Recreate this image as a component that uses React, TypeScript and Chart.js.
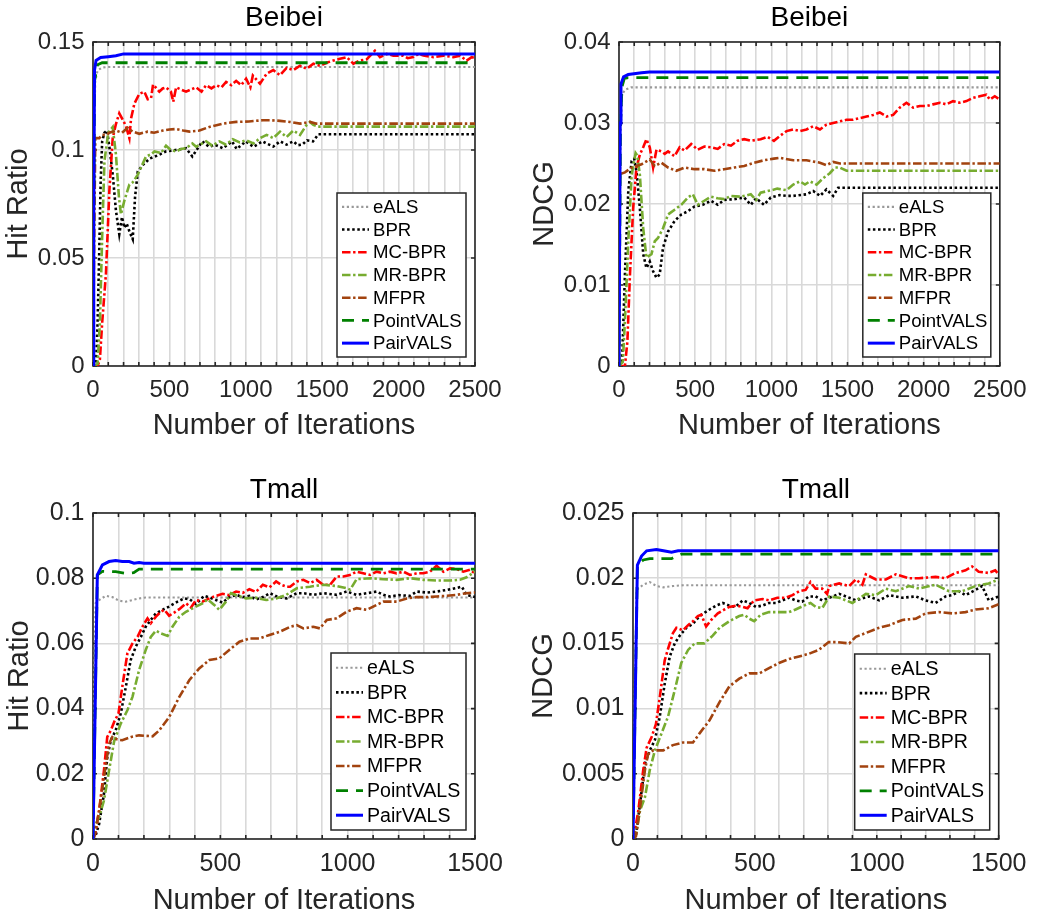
import React, { useEffect, useRef } from 'react';
import { Chart, registerables } from 'chart.js';

Chart.register(...registerables);

type Pt = [number, number];

const FONT = '"Liberation Sans", Arial, Helvetica, sans-serif';

const seriesNames = ['eALS', 'BPR', 'MC-BPR', 'MR-BPR', 'MFPR', 'PointVALS', 'PairVALS'];

const xTickLabelsBeibei = ['0', '500', '1000', '1500', '2000', '2500'];
const xTickLabelsTmall = ['0', '500', '1000', '1500'];
const yTickLabelsHrBeibei = ['0', '0.05', '0.1', '0.15'];
const yTickLabelsNdcgBeibei = ['0', '0.01', '0.02', '0.03', '0.04'];
const yTickLabelsHrTmall = ['0', '0.02', '0.04', '0.06', '0.08', '0.1'];
const yTickLabelsNdcgTmall = ['0', '0.005', '0.01', '0.015', '0.02', '0.025'];

// ---------- Beibei, Hit Ratio ----------
const beibeiHrEALS: Pt[] = [[0, 0], [8, 0.11], [15, 0.132], [30, 0.1368], [60, 0.1382], [100, 0.1384], [2500, 0.1384]];
const beibeiHrBPR: Pt[] = [[0, 0], [20, 0.001], [30, 0.02], [40, 0.05], [50, 0.085], [60, 0.104], [75, 0.108], [92, 0.109], [110, 0.1], [130, 0.088], [150, 0.072], [172, 0.061], [190, 0.069], [205, 0.064], [220, 0.066], [240, 0.062], [260, 0.0587], [275, 0.078], [293, 0.09], [325, 0.093], [370, 0.096], [430, 0.0977], [475, 0.0993], [540, 0.1], [609, 0.1008], [650, 0.097], [715, 0.104], [760, 0.1015], [800, 0.1024], [850, 0.1008], [910, 0.104], [940, 0.1005], [1000, 0.104], [1050, 0.1015], [1110, 0.104], [1136, 0.103], [1180, 0.1016], [1224, 0.104], [1267, 0.1025], [1311, 0.104], [1340, 0.1022], [1370, 0.1025], [1400, 0.1045], [1440, 0.104], [1475, 0.1073], [2500, 0.1073]];
const beibeiHrMCBPR: Pt[] = [[0, 0], [30, 0], [45, 0.003], [60, 0.02], [85, 0.043], [107, 0.081], [129, 0.1055], [150, 0.112], [172, 0.117], [195, 0.114], [216, 0.111], [238, 0.1055], [249, 0.1146], [271, 0.1215], [303, 0.126], [336, 0.127], [358, 0.1235], [380, 0.124], [393, 0.1303], [410, 0.129], [434, 0.127], [456, 0.1285], [478, 0.129], [510, 0.127], [525, 0.1223], [544, 0.129], [575, 0.128], [609, 0.127], [640, 0.128], [675, 0.129], [710, 0.127], [740, 0.13], [775, 0.1285], [806, 0.13], [840, 0.129], [871, 0.1315], [905, 0.13], [937, 0.132], [970, 0.13], [1002, 0.133], [1030, 0.129], [1046, 0.1345], [1093, 0.1307], [1136, 0.1353], [1180, 0.137], [1224, 0.1346], [1267, 0.138], [1311, 0.137], [1355, 0.139], [1398, 0.1376], [1442, 0.14], [1485, 0.139], [1529, 0.1404], [1573, 0.1414], [1616, 0.1422], [1660, 0.143], [1704, 0.14], [1747, 0.1414], [1791, 0.142], [1845, 0.146], [1878, 0.143], [1922, 0.1445], [1965, 0.1437], [2031, 0.1437], [2060, 0.1425], [2096, 0.143], [2130, 0.1445], [2162, 0.1437], [2227, 0.143], [2293, 0.1437], [2358, 0.143], [2402, 0.1437], [2445, 0.1414], [2478, 0.143], [2500, 0.1425]];
const beibeiHrMRBPR: Pt[] = [[0, 0], [30, 0.001], [45, 0.02], [60, 0.06], [75, 0.095], [100, 0.108], [129, 0.1106], [150, 0.098], [170, 0.078], [183, 0.0702], [205, 0.0765], [238, 0.084], [260, 0.085], [293, 0.0886], [315, 0.092], [347, 0.097], [380, 0.098], [402, 0.0993], [445, 0.0986], [478, 0.102], [510, 0.1], [544, 0.0993], [576, 0.1005], [609, 0.1008], [650, 0.103], [675, 0.1015], [740, 0.104], [780, 0.102], [827, 0.104], [871, 0.1025], [915, 0.105], [960, 0.1035], [1002, 0.1045], [1050, 0.103], [1093, 0.1055], [1136, 0.107], [1180, 0.1055], [1224, 0.1085], [1267, 0.106], [1311, 0.109], [1355, 0.107], [1398, 0.1116], [1420, 0.113], [1442, 0.1116], [1474, 0.1108], [2500, 0.1108]];
const beibeiHrMFPR: Pt[] = [[0, 0], [8, 0.06], [15, 0.1055], [41, 0.1055], [60, 0.107], [90, 0.107], [107, 0.108], [150, 0.109], [190, 0.108], [227, 0.1103], [260, 0.1085], [303, 0.1075], [358, 0.1085], [400, 0.108], [456, 0.109], [500, 0.1095], [544, 0.1097], [590, 0.109], [631, 0.1085], [697, 0.109], [762, 0.1107], [849, 0.1122], [937, 0.113], [1020, 0.1132], [1111, 0.1138], [1158, 0.1138], [1224, 0.1135], [1289, 0.113], [1355, 0.1122], [1380, 0.1125], [1420, 0.113], [1463, 0.1122], [2500, 0.1122]];
const beibeiHrPointVALS: Pt[] = [[0, 0], [5, 0.07], [10, 0.132], [30, 0.1395], [60, 0.1404], [2500, 0.1404]];
const beibeiHrPairVALS: Pt[] = [[0, 0], [5, 0.07], [10, 0.137], [20, 0.1415], [50, 0.1428], [100, 0.1432], [150, 0.1436], [200, 0.1445], [2500, 0.1445]];

// ---------- Beibei, NDCG ----------
const beibeiNdcgEALS: Pt[] = [[0, 0], [10, 0.028], [20, 0.0335], [40, 0.0341], [80, 0.0344], [2500, 0.0344]];
const beibeiNdcgBPR: Pt[] = [[0, 0], [20, 0.0005], [39, 0.0113], [61, 0.0216], [83, 0.0253], [100, 0.0256], [115, 0.024], [137, 0.0195], [159, 0.0138], [180, 0.0121], [202, 0.0129], [224, 0.0117], [246, 0.0109], [267, 0.0113], [289, 0.0146], [322, 0.0166], [365, 0.0179], [409, 0.0187], [452, 0.0191], [496, 0.0197], [550, 0.0199], [604, 0.0204], [648, 0.0199], [691, 0.0205], [757, 0.0206], [822, 0.0208], [865, 0.0199], [900, 0.0207], [952, 0.0199], [996, 0.0208], [1056, 0.0211], [1104, 0.021], [1144, 0.021], [1231, 0.0212], [1275, 0.0216], [1320, 0.021], [1362, 0.0218], [1406, 0.021], [1439, 0.022], [2500, 0.022]];
const beibeiNdcgMCBPR: Pt[] = [[0, 0], [39, 0], [55, 0.003], [72, 0.0113], [93, 0.0195], [115, 0.0245], [137, 0.0261], [159, 0.027], [180, 0.028], [202, 0.027], [224, 0.0245], [246, 0.0267], [278, 0.0265], [300, 0.0262], [322, 0.0265], [365, 0.0259], [398, 0.027], [430, 0.0266], [474, 0.0274], [517, 0.0267], [560, 0.0271], [604, 0.027], [648, 0.0268], [691, 0.0274], [735, 0.0272], [778, 0.0278], [822, 0.028], [865, 0.0278], [930, 0.028], [975, 0.0283], [1017, 0.0278], [1056, 0.0284], [1100, 0.029], [1144, 0.0292], [1188, 0.029], [1231, 0.0292], [1275, 0.0296], [1319, 0.0292], [1362, 0.0298], [1406, 0.03], [1450, 0.0302], [1494, 0.0304], [1537, 0.0304], [1581, 0.0306], [1625, 0.0308], [1669, 0.031], [1712, 0.0313], [1756, 0.0308], [1800, 0.031], [1843, 0.0319], [1887, 0.0325], [1931, 0.0319], [1975, 0.0321], [2018, 0.0321], [2062, 0.0323], [2106, 0.0325], [2150, 0.0323], [2193, 0.0327], [2237, 0.0325], [2281, 0.0327], [2325, 0.0331], [2368, 0.0333], [2412, 0.0335], [2434, 0.0329], [2467, 0.0333], [2500, 0.0329]];
const beibeiNdcgMRBPR: Pt[] = [[0, 0], [25, 0.0005], [40, 0.006], [61, 0.0154], [83, 0.0236], [109, 0.0263], [120, 0.026], [137, 0.0236], [159, 0.017], [180, 0.0134], [213, 0.0138], [235, 0.0154], [256, 0.0158], [289, 0.017], [322, 0.0187], [365, 0.0193], [409, 0.0199], [452, 0.0208], [485, 0.0212], [517, 0.0199], [560, 0.0204], [604, 0.0209], [648, 0.0207], [691, 0.0206], [735, 0.021], [800, 0.0209], [865, 0.0212], [900, 0.0205], [930, 0.0214], [1000, 0.0217], [1039, 0.0219], [1100, 0.0217], [1144, 0.0224], [1188, 0.0228], [1221, 0.0224], [1253, 0.0228], [1297, 0.0224], [1341, 0.0232], [1384, 0.0238], [1417, 0.0245], [1450, 0.0245], [1494, 0.0241], [2500, 0.0241]];
const beibeiNdcgMFPR: Pt[] = [[0, 0], [5, 0.0237], [39, 0.0239], [83, 0.0245], [148, 0.0249], [202, 0.0255], [235, 0.0247], [278, 0.0251], [322, 0.0245], [376, 0.0241], [430, 0.0245], [496, 0.0243], [560, 0.0243], [626, 0.0241], [690, 0.0243], [757, 0.0245], [822, 0.0247], [887, 0.0251], [952, 0.0254], [1017, 0.0256], [1056, 0.0257], [1144, 0.0254], [1231, 0.0254], [1319, 0.0251], [1362, 0.0248], [1406, 0.0252], [1450, 0.025], [2500, 0.025]];
const beibeiNdcgPointVALS: Pt[] = [[0, 0], [10, 0.03], [20, 0.0345], [35, 0.0355], [60, 0.0356], [2500, 0.0356]];
const beibeiNdcgPairVALS: Pt[] = [[0, 0], [8, 0.03], [13, 0.0348], [30, 0.0357], [61, 0.036], [148, 0.0362], [200, 0.0363], [2500, 0.0363]];

// ---------- Tmall, Hit Ratio ----------
const tmallHrEALS: Pt[] = [[0, 0], [5, 0.05], [10, 0.0723], [24, 0.0733], [50, 0.0746], [76, 0.0742], [102, 0.0731], [129, 0.0728], [155, 0.0733], [181, 0.0738], [207, 0.0741], [1500, 0.0741]];
const tmallHrBPR: Pt[] = [[0, 0], [10, 0.001], [24, 0.0046], [43, 0.0138], [56, 0.025], [70, 0.0303], [89, 0.0333], [109, 0.0385], [129, 0.0467], [148, 0.0549], [168, 0.059], [188, 0.062], [207, 0.0651], [227, 0.0672], [247, 0.0692], [273, 0.0703], [299, 0.0713], [332, 0.0728], [358, 0.0738], [380, 0.0735], [404, 0.0721], [437, 0.0746], [460, 0.074], [483, 0.0733], [509, 0.0725], [535, 0.0742], [562, 0.0749], [588, 0.0742], [614, 0.0746], [640, 0.0735], [667, 0.0742], [695, 0.0754], [721, 0.0744], [760, 0.0738], [800, 0.0754], [826, 0.0754], [865, 0.0749], [904, 0.0754], [957, 0.0749], [996, 0.0759], [1035, 0.0749], [1075, 0.0754], [1114, 0.0759], [1140, 0.0749], [1166, 0.0744], [1200, 0.0748], [1245, 0.0746], [1271, 0.0759], [1310, 0.0756], [1349, 0.0759], [1389, 0.0764], [1428, 0.077], [1448, 0.0774], [1467, 0.0749], [1500, 0.0742]];
const tmallHrMCBPR: Pt[] = [[0, 0], [8, 0.0015], [24, 0.0087], [43, 0.021], [56, 0.0313], [70, 0.0333], [83, 0.0359], [100, 0.0385], [115, 0.0467], [135, 0.0569], [155, 0.06], [175, 0.062], [194, 0.0651], [214, 0.0677], [227, 0.0662], [247, 0.0682], [266, 0.0697], [280, 0.0703], [299, 0.0685], [320, 0.0695], [339, 0.0705], [365, 0.0723], [385, 0.071], [404, 0.0733], [430, 0.0728], [457, 0.0738], [483, 0.0746], [509, 0.0752], [535, 0.0748], [562, 0.0759], [588, 0.0755], [614, 0.0766], [640, 0.0758], [667, 0.078], [693, 0.0772], [719, 0.079], [739, 0.078], [760, 0.0774], [774, 0.0774], [800, 0.079], [826, 0.0795], [852, 0.0785], [878, 0.0795], [904, 0.078], [931, 0.078], [957, 0.0805], [983, 0.0805], [1009, 0.081], [1035, 0.082], [1061, 0.0815], [1088, 0.081], [1114, 0.082], [1140, 0.0815], [1166, 0.082], [1192, 0.0815], [1219, 0.082], [1245, 0.081], [1271, 0.0815], [1297, 0.0815], [1323, 0.082], [1349, 0.0838], [1376, 0.082], [1402, 0.083], [1428, 0.0828], [1454, 0.082], [1480, 0.0826], [1500, 0.0815]];
const tmallHrMRBPR: Pt[] = [[0, 0], [5, 0.0036], [24, 0.0067], [43, 0.0118], [63, 0.021], [83, 0.03], [109, 0.0354], [135, 0.0395], [155, 0.0436], [181, 0.0518], [207, 0.058], [227, 0.062], [247, 0.0639], [266, 0.0631], [293, 0.0623], [312, 0.0651], [339, 0.0682], [365, 0.0697], [404, 0.0713], [430, 0.0723], [450, 0.0735], [476, 0.0718], [496, 0.0703], [522, 0.0728], [542, 0.0754], [568, 0.0746], [601, 0.0738], [640, 0.074], [680, 0.0733], [719, 0.0738], [759, 0.0749], [800, 0.0769], [852, 0.0774], [904, 0.078], [957, 0.0776], [996, 0.0769], [1010, 0.0765], [1035, 0.0797], [1088, 0.08], [1140, 0.0797], [1192, 0.0795], [1245, 0.08], [1297, 0.0795], [1349, 0.0793], [1402, 0.0793], [1441, 0.0795], [1467, 0.0803], [1500, 0.082]];
const tmallHrMFPR: Pt[] = [[0, 0], [8, 0.0015], [24, 0.0087], [43, 0.019], [63, 0.0292], [76, 0.0313], [96, 0.0305], [115, 0.0303], [150, 0.0313], [181, 0.0318], [234, 0.0315], [260, 0.0333], [299, 0.0374], [339, 0.0436], [378, 0.0487], [417, 0.0523], [457, 0.0549], [496, 0.0554], [535, 0.058], [575, 0.0605], [614, 0.0615], [654, 0.0615], [693, 0.0626], [734, 0.0636], [774, 0.0651], [800, 0.0656], [826, 0.0646], [865, 0.0651], [891, 0.0646], [918, 0.0672], [957, 0.0677], [996, 0.0697], [1035, 0.0708], [1075, 0.0703], [1114, 0.0718], [1140, 0.0728], [1192, 0.0728], [1232, 0.0738], [1271, 0.0742], [1310, 0.0742], [1349, 0.0744], [1389, 0.0746], [1428, 0.0749], [1467, 0.0754], [1500, 0.0756]];
const tmallHrPointVALS: Pt[] = [[0, 0], [17, 0.081], [37, 0.0821], [89, 0.082], [129, 0.0815], [160, 0.0817], [181, 0.0828], [1500, 0.0828]];
const tmallHrPairVALS: Pt[] = [[0, 0], [17, 0.081], [37, 0.0841], [63, 0.0851], [89, 0.0854], [115, 0.0851], [142, 0.0851], [161, 0.0846], [181, 0.0848], [200, 0.0846], [1500, 0.0846]];

// ---------- Tmall, NDCG ----------
const tmallNdcgEALS: Pt[] = [[0, 0], [8, 0.012], [15, 0.0191], [42, 0.0195], [69, 0.0197], [96, 0.0194], [124, 0.0193], [164, 0.0194], [205, 0.01946], [1500, 0.01946]];
const tmallNdcgBPR: Pt[] = [[0, 0], [12, 0.0003], [29, 0.0027], [49, 0.0058], [69, 0.0068], [90, 0.0076], [110, 0.0094], [130, 0.0119], [151, 0.014], [171, 0.015], [192, 0.0156], [219, 0.0162], [246, 0.0165], [273, 0.0171], [314, 0.0176], [341, 0.0179], [368, 0.0181], [395, 0.0179], [420, 0.0178], [450, 0.0183], [477, 0.0181], [504, 0.0178], [531, 0.0179], [558, 0.0181], [586, 0.0181], [613, 0.0183], [640, 0.0185], [667, 0.0183], [694, 0.0182], [721, 0.0186], [749, 0.0186], [776, 0.0183], [805, 0.0185], [846, 0.0188], [887, 0.0185], [914, 0.0183], [968, 0.0186], [1010, 0.0183], [1051, 0.0187], [1105, 0.0185], [1160, 0.0186], [1200, 0.0183], [1241, 0.0181], [1282, 0.0186], [1310, 0.0187], [1337, 0.019], [1364, 0.0187], [1405, 0.0191], [1432, 0.0194], [1459, 0.0183], [1500, 0.0186]];
const tmallNdcgMCBPR: Pt[] = [[0, 0], [5, 0.0003], [22, 0.0022], [42, 0.0053], [56, 0.007], [76, 0.0078], [94, 0.0088], [110, 0.0109], [130, 0.0137], [144, 0.0146], [164, 0.0158], [178, 0.0162], [205, 0.016], [226, 0.0164], [246, 0.0167], [266, 0.0171], [280, 0.0172], [300, 0.0163], [321, 0.0168], [348, 0.0173], [375, 0.0176], [395, 0.0178], [423, 0.0179], [450, 0.0178], [470, 0.0177], [497, 0.0183], [531, 0.0184], [558, 0.0183], [592, 0.0185], [626, 0.0185], [654, 0.0187], [681, 0.019], [708, 0.0191], [728, 0.0197], [749, 0.0192], [776, 0.0192], [796, 0.0188], [805, 0.0194], [846, 0.0196], [887, 0.0194], [914, 0.0199], [941, 0.0195], [955, 0.0203], [996, 0.0199], [1037, 0.0199], [1078, 0.0203], [1132, 0.02], [1173, 0.02], [1241, 0.0201], [1282, 0.02], [1323, 0.0204], [1364, 0.0206], [1391, 0.0209], [1418, 0.0205], [1459, 0.0204], [1486, 0.0206], [1500, 0.0203]];
const tmallNdcgMRBPR: Pt[] = [[0, 0], [12, 0.0003], [29, 0.0022], [49, 0.0032], [69, 0.0053], [90, 0.0068], [117, 0.0081], [144, 0.0094], [171, 0.0114], [198, 0.0135], [226, 0.0145], [253, 0.015], [293, 0.015], [327, 0.0156], [355, 0.0162], [395, 0.0167], [436, 0.0171], [457, 0.0172], [477, 0.0169], [497, 0.0167], [524, 0.0172], [558, 0.0174], [599, 0.0174], [640, 0.0174], [667, 0.0176], [701, 0.0179], [728, 0.0181], [749, 0.0178], [776, 0.0177], [805, 0.0186], [846, 0.0185], [900, 0.0181], [955, 0.0188], [996, 0.0187], [1037, 0.0192], [1078, 0.019], [1132, 0.0194], [1173, 0.0192], [1241, 0.0195], [1296, 0.019], [1350, 0.019], [1405, 0.0194], [1459, 0.0196], [1500, 0.0199]];
const tmallNdcgMFPR: Pt[] = [[0, 0], [12, 0.0002], [29, 0.0024], [49, 0.0053], [62, 0.0065], [83, 0.0068], [124, 0.0068], [164, 0.0072], [205, 0.0074], [246, 0.0074], [273, 0.0081], [314, 0.0091], [355, 0.0105], [395, 0.0117], [436, 0.0123], [477, 0.0127], [518, 0.0127], [558, 0.0131], [599, 0.0135], [640, 0.0138], [681, 0.014], [721, 0.0142], [762, 0.0145], [803, 0.0151], [832, 0.0151], [887, 0.015], [914, 0.0155], [955, 0.0158], [1010, 0.0162], [1051, 0.0164], [1105, 0.0168], [1160, 0.0169], [1200, 0.0173], [1255, 0.0174], [1310, 0.0173], [1364, 0.0174], [1405, 0.0176], [1459, 0.0177], [1500, 0.018]];
const tmallNdcgPointVALS: Pt[] = [[0, 0], [18, 0.021], [42, 0.0214], [69, 0.0215], [125, 0.0215], [158, 0.0215], [178, 0.0217], [200, 0.02185], [1500, 0.02185]];
const tmallNdcgPairVALS: Pt[] = [[0, 0], [18, 0.021], [35, 0.0217], [56, 0.0221], [96, 0.0222], [125, 0.0221], [158, 0.022], [185, 0.0221], [1500, 0.0221]];

// ---------- styles (not data) ----------
const seriesStyles = [
  { color: '#999999', dash: [2.2, 2.6], width: 2.1 },
  { color: '#000000', dash: [2.5, 2.6], width: 2.6 },
  { color: '#ff0000', dash: [8.5, 2.6, 2.4, 2.6], width: 2.6 },
  { color: '#77ac30', dash: [8.5, 2.6, 2.4, 2.6], width: 2.6 },
  { color: '#a2430f', dash: [8.5, 2.6, 2.4, 2.6], width: 2.6 },
  { color: '#008000', dash: [12, 8], width: 2.8 },
  { color: '#0000ff', dash: [], width: 3 },
];

type PanelCfg = {
  title: string; yLabel: string;
  series: Pt[][];
  xMax: number; xLabels: string[];
  yMax: number; yStep: number; yLabels: string[];
  left: number; top: number; w: number; h: number;
  plotLeft: number; plotRight: number; plotTop: number; plotBottom: number;
  titlePadTop: number; yTitlePad: number; xTitlePadBottom: number;
  tickFont: number; legendW: number; legendH: number; legendFont: number;
};

const panels: PanelCfg[] = [
  {
    title: 'Beibei', yLabel: 'Hit Ratio',
    series: [beibeiHrEALS, beibeiHrBPR, beibeiHrMCBPR, beibeiHrMRBPR, beibeiHrMFPR, beibeiHrPointVALS, beibeiHrPairVALS],
    xMax: 2500, xLabels: xTickLabelsBeibei, yMax: 0.15, yStep: 0.05, yLabels: yTickLabelsHrBeibei,
    left: 0, top: 0, w: 520, h: 457, plotLeft: 93, plotRight: 475, plotTop: 42, plotBottom: 366,
    titlePadTop: 4.5, yTitlePad: 4.8, xTitlePadBottom: 17, tickFont: 24, legendW: 129, legendH: 164, legendFont: 18.6,
  },
  {
    title: 'Beibei', yLabel: 'NDCG',
    series: [beibeiNdcgEALS, beibeiNdcgBPR, beibeiNdcgMCBPR, beibeiNdcgMRBPR, beibeiNdcgMFPR, beibeiNdcgPointVALS, beibeiNdcgPairVALS],
    xMax: 2500, xLabels: xTickLabelsBeibei, yMax: 0.04, yStep: 0.01, yLabels: yTickLabelsNdcgBeibei,
    left: 520, top: 0, w: 519, h: 457, plotLeft: 619, plotRight: 1000, plotTop: 42, plotBottom: 366,
    titlePadTop: 4.5, yTitlePad: 10.2, xTitlePadBottom: 17, tickFont: 24, legendW: 128, legendH: 164, legendFont: 18.6,
  },
  {
    title: 'Tmall', yLabel: 'Hit Ratio',
    series: [tmallHrEALS, tmallHrBPR, tmallHrMCBPR, tmallHrMRBPR, tmallHrMFPR, tmallHrPointVALS, tmallHrPairVALS],
    xMax: 1500, xLabels: xTickLabelsTmall, yMax: 0.1, yStep: 0.02, yLabels: yTickLabelsHrTmall,
    left: 0, top: 457, w: 520, h: 457, plotLeft: 93, plotRight: 475, plotTop: 513, plotBottom: 839,
    titlePadTop: 19.5, yTitlePad: 5.3, xTitlePadBottom: -1, tickFont: 25, legendW: 135, legendH: 177, legendFont: 19.6,
  },
  {
    title: 'Tmall', yLabel: 'NDCG',
    series: [tmallNdcgEALS, tmallNdcgBPR, tmallNdcgMCBPR, tmallNdcgMRBPR, tmallNdcgMFPR, tmallNdcgPointVALS, tmallNdcgPairVALS],
    xMax: 1500, xLabels: xTickLabelsTmall, yMax: 0.025, yStep: 0.005, yLabels: yTickLabelsNdcgTmall,
    left: 520, top: 457, w: 519, h: 457, plotLeft: 633, plotRight: 1000, plotTop: 513, plotBottom: 839,
    titlePadTop: 19.5, yTitlePad: 9.6, xTitlePadBottom: -1, tickFont: 25, legendW: 135, legendH: 176, legendFont: 19.6,
  },
];

const framePlugin = {
  id: 'matlabFrame',
  beforeDatasetsDraw(chart: any) {
    const { ctx, chartArea } = chart;
    const { left, right, top, bottom } = chartArea;
    const xs = chart.scales.x;
    const ys = chart.scales.y;
    ctx.save();
    ctx.strokeStyle = '#262626';
    ctx.lineWidth = 1.6;
    ctx.setLineDash([]);
    ctx.strokeRect(left, top, right - left, bottom - top);
    ctx.beginPath();
    xs.ticks.forEach((t: any) => {
      const px = xs.getPixelForValue(t.value);
      ctx.moveTo(px, bottom); ctx.lineTo(px, bottom - 4);
      ctx.moveTo(px, top); ctx.lineTo(px, top + 4);
    });
    ys.ticks.forEach((t: any) => {
      const py = ys.getPixelForValue(t.value);
      ctx.moveTo(left, py); ctx.lineTo(left + 4, py);
      ctx.moveTo(right, py); ctx.lineTo(right - 4, py);
    });
    ctx.stroke();
    ctx.restore();
  },
};

const boxLegendPlugin = {
  id: 'boxLegend',
  afterDatasetsDraw(chart: any, _args: any, opts: any) {
    const { ctx, chartArea } = chart;
    const w = opts.w, h = opts.h;
    const x1 = chartArea.right - 9 - w;
    const y1 = chartArea.bottom - 9 - h;
    ctx.save();
    ctx.setLineDash([]);
    ctx.fillStyle = '#ffffff';
    ctx.fillRect(x1, y1, w, h);
    ctx.strokeStyle = '#262626';
    ctx.lineWidth = 1.5;
    ctx.strokeRect(x1, y1, w, h);
    const datasets = chart.data.datasets;
    const padY = 2.5;
    const rowH = (h - 2 * padY) / datasets.length;
    datasets.forEach((ds: any, i: number) => {
      const cy = y1 + padY + rowH * (i + 0.5);
      ctx.beginPath();
      ctx.setLineDash(ds.borderDash || []);
      ctx.strokeStyle = ds.borderColor;
      ctx.lineWidth = ds.borderWidth;
      ctx.moveTo(x1 + 5, cy);
      ctx.lineTo(x1 + 32, cy);
      ctx.stroke();
      ctx.setLineDash([]);
      ctx.fillStyle = '#000000';
      ctx.font = `${opts.font}px ${FONT}`;
      ctx.textBaseline = 'middle';
      ctx.textAlign = 'left';
      ctx.fillText(ds.label, x1 + 36, cy + 1);
    });
    ctx.restore();
  },
};

function Panel({ cfg }: { cfg: PanelCfg }) {
  const ref = useRef<HTMLCanvasElement>(null);
  useEffect(() => {
    const c = cfg;
    const tickFont = { family: FONT, size: c.tickFont, lineHeight: 1 };
    const axisTitleFont = { family: FONT, size: 29, lineHeight: 1 };
    const localTop = c.plotTop - c.top;
    const chart = new Chart(ref.current as HTMLCanvasElement, {
      type: 'line',
      data: {
        datasets: c.series.map((s, i) => ({
          label: seriesNames[i],
          data: s.map(([x, y]) => ({ x, y })),
          borderColor: seriesStyles[i].color,
          borderDash: seriesStyles[i].dash,
          borderWidth: seriesStyles[i].width,
          pointRadius: 0,
          tension: 0,
          fill: false,
          order: 6 - i,
        })),
      },
      options: {
        responsive: false,
        animation: false,
        events: [],
        layout: { padding: { left: 0, top: 0, bottom: 0, right: c.w - (c.plotRight - c.left) } },
        plugins: {
          legend: { display: false },
          tooltip: { enabled: false },
          title: {
            display: true,
            text: c.title,
            color: '#000000',
            fullSize: false,
            font: { family: FONT, size: 28, lineHeight: 1, weight: 'normal' },
            padding: { top: c.titlePadTop, bottom: localTop - 28 - c.titlePadTop },
          },
          boxLegend: { w: c.legendW, h: c.legendH, font: c.legendFont },
        } as any,
        scales: {
          x: {
            type: 'linear',
            min: 0,
            max: c.xMax,
            afterFit: (s: any) => { s.height = c.top + c.h - c.plotBottom; },
            ticks: {
              stepSize: 100,
              autoSkip: false,
              maxRotation: 0,
              padding: 12.5,
              color: '#262626',
              font: tickFont,
              callback: (v: any) => {
                const n = Math.round(Number(v));
                return n % 500 === 0 ? (c.xLabels[n / 500] ?? '') : '';
              },
            },
            grid: { color: '#d9d9d9', lineWidth: 1.6, drawTicks: false },
            border: { display: false },
            title: {
              display: true,
              text: 'Number of Iterations',
              color: '#262626',
              font: axisTitleFont,
              padding: { top: 0, bottom: c.xTitlePadBottom },
            },
          },
          y: {
            type: 'linear',
            min: 0,
            max: c.yMax,
            afterFit: (s: any) => { s.width = c.plotLeft - c.left; },
            ticks: {
              stepSize: c.yStep,
              padding: 8.5,
              color: '#262626',
              font: tickFont,
              callback: (_v: any, i: number) => c.yLabels[i] ?? '',
            },
            grid: { color: '#d9d9d9', lineWidth: 1.6, drawTicks: false },
            border: { display: false },
            title: {
              display: true,
              text: c.yLabel,
              color: '#262626',
              font: axisTitleFont,
              padding: { top: c.yTitlePad, bottom: 0 },
            },
          },
        } as any,
      } as any,
      plugins: [framePlugin, boxLegendPlugin],
    });
    return () => chart.destroy();
  }, [cfg]);
  return (
    <canvas
      ref={ref}
      width={cfg.w}
      height={cfg.h}
      style={{ position: 'absolute', left: cfg.left, top: cfg.top, width: cfg.w, height: cfg.h }}
    />
  );
}

export default function App() {
  return (
    <div style={{ position: 'fixed', left: 0, top: 0, width: 1039, height: 914, background: '#ffffff', overflow: 'hidden' }}>
      {panels.map((p, i) => (
        <Panel key={i} cfg={p} />
      ))}
    </div>
  );
}
